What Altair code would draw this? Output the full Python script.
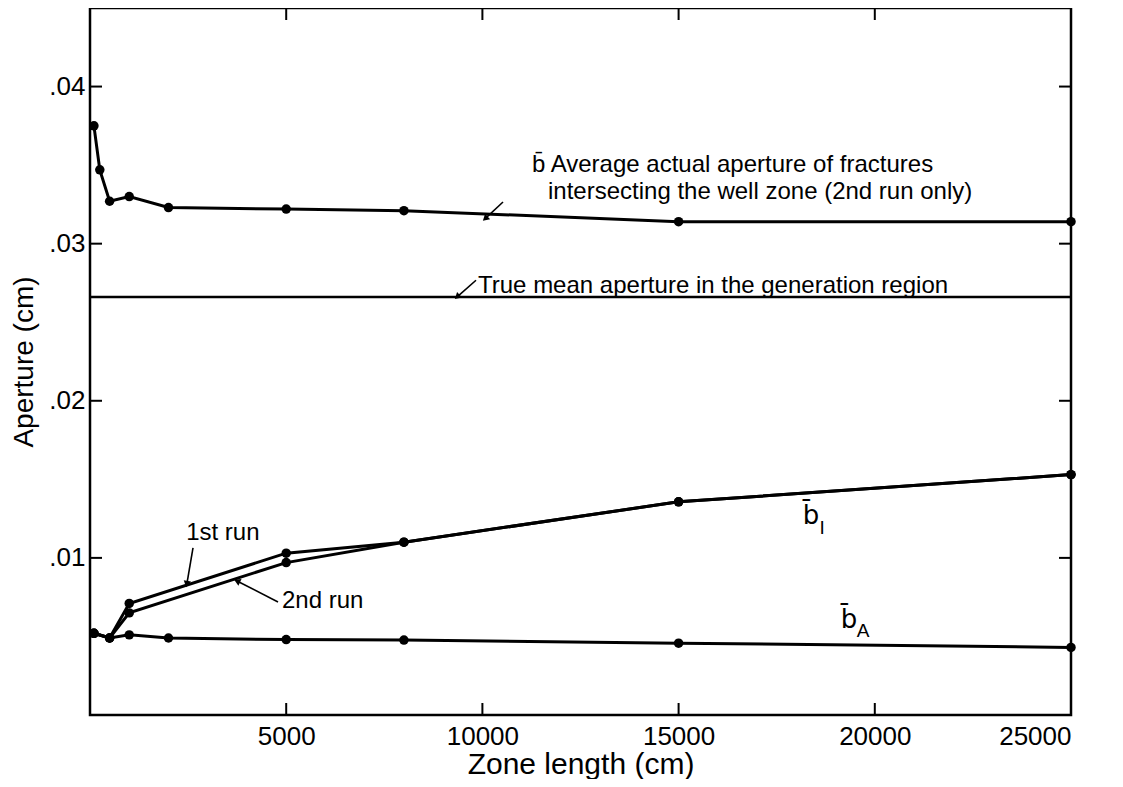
import altair as alt
import pandas as pd

# ---- data ----
x_bbar = [100, 250, 500, 1000, 2000, 5000, 8000, 15000, 25000]
b_bar = [0.0375, 0.0347, 0.0327, 0.0330, 0.0323, 0.0322, 0.0321, 0.0314, 0.0314]

x_bi = [100, 500, 1000, 5000, 8000, 15000, 25000]
bi_run1 = [0.0052, 0.0049, 0.0071, 0.0103, 0.0110, 0.01357, 0.0153]
bi_run2 = [0.0052, 0.0049, 0.0065, 0.0097, 0.0110, 0.01357, 0.0153]

x_ba = [100, 500, 1000, 2000, 5000, 8000, 15000, 25000]
b_a = [0.0052, 0.0049, 0.0051, 0.0049, 0.0048, 0.00477, 0.00457, 0.0043]

true_mean = 0.0266

x_ticks = [5000, 10000, 15000, 20000, 25000]
y_ticks = [0.01, 0.02, 0.03, 0.04]

# annotation texts (data coordinates)
ann_text = ["b\u0304 Average actual aperture of fractures",
            "intersecting the well zone (2nd run only)",
            "True mean aperture in the generation region",
            "1st run", "2nd run"]
ann_x = [11264, 11672, 9888, 2450, 4893]
ann_y = [0.03502, 0.03329, 0.02729, 0.01159, 0.00726]

# arrows: tail -> tip
arr_x1 = [10525, 9837, 2625, 4791]
arr_y1 = [0.03265, 0.02767, 0.01064, 0.00719]
arr_x2 = [10092, 9378, 2472, 3772]
arr_y2 = [0.03164, 0.02666, 0.00840, 0.00850]
arr_angle = [227, 228, 190, 295]

# curve labels
lab_main = ["b\u0304", "b\u0304"]
lab_main_x = [18374, 19343]
lab_main_y = [0.01267, 0.00604]
lab_sub = ["I", "A"]
lab_sub_x = [18660, 19700]
lab_sub_y = [0.01190, 0.00535]

W, H = 981, 707
FONT = "Liberation Sans"

xs = alt.Scale(domain=[0, 25000], nice=False, zero=False)
ys = alt.Scale(domain=[0, 0.045], nice=False, zero=False)

df_lines = pd.concat([
    pd.DataFrame({"x": x_bbar, "y": b_bar, "s": "bbar"}),
    pd.DataFrame({"x": x_bi, "y": bi_run1, "s": "bi1"}),
    pd.DataFrame({"x": x_bi, "y": bi_run2, "s": "bi2"}),
    pd.DataFrame({"x": x_ba, "y": b_a, "s": "ba"}),
], ignore_index=True)

X = alt.X("x:Q", scale=xs, axis=alt.Axis(
    values=x_ticks, format="d", ticks=False, domain=False, grid=False,
    title="Zone length (cm)", labelFontSize=26, titleFontSize=30,
    labelPadding=8, titlePadding=0, titleFontWeight="normal",
    labelFont=FONT, titleFont=FONT, labelColor="black", titleColor="black"))
Y = alt.Y("y:Q", scale=ys, axis=alt.Axis(
    values=y_ticks, labelExpr="substring(format(datum.value, '.2f'), 1)",
    ticks=False, domain=False, grid=False, title="Aperture (cm)",
    labelFontSize=26, titleFontSize=28, labelPadding=5, titlePadding=10,
    titleFontWeight="normal", labelFont=FONT, titleFont=FONT,
    labelColor="black", titleColor="black"))

base = alt.Chart(df_lines)
lines = base.mark_line(color="black", strokeWidth=3).encode(x=X, y=Y, detail="s:N")
pts = base.mark_circle(color="black", size=90, opacity=1).encode(x="x:Q", y="y:Q")

tm = alt.Chart(pd.DataFrame({"y": [true_mean]})).mark_rule(color="black", strokeWidth=2.5).encode(
    y="y:Q", x=alt.value(0), x2=alt.value(W))

yt = pd.DataFrame({"y": y_ticks})
xt = pd.DataFrame({"x": x_ticks})
ticks_l = alt.Chart(yt).mark_rule(color="black", strokeWidth=2).encode(y="y:Q", x=alt.value(0), x2=alt.value(12))
ticks_r = alt.Chart(yt).mark_rule(color="black", strokeWidth=2).encode(y="y:Q", x=alt.value(W - 12), x2=alt.value(W))
ticks_b = alt.Chart(xt).mark_rule(color="black", strokeWidth=2).encode(x="x:Q", y=alt.value(H - 12), y2=alt.value(H))
ticks_t = alt.Chart(xt).mark_rule(color="black", strokeWidth=2).encode(x="x:Q", y=alt.value(0), y2=alt.value(12))

ann = alt.Chart(pd.DataFrame({"t": ann_text, "x": ann_x, "y": ann_y})).mark_text(
    align="left", baseline="middle", font=FONT, fontSize=24, color="black").encode(
    x="x:Q", y="y:Q", text="t:N")

arr_df = pd.DataFrame({"x": arr_x1, "y": arr_y1, "x2": arr_x2, "y2": arr_y2, "a": arr_angle})
arr_line = alt.Chart(arr_df).mark_rule(color="black", strokeWidth=1.6).encode(
    x="x:Q", y="y:Q", x2="x2:Q", y2="y2:Q")
arr_head = alt.Chart(arr_df).mark_point(shape="triangle", filled=True, color="black", size=55, opacity=1).encode(
    x="x2:Q", y="y2:Q", angle=alt.Angle("a:Q", scale=None))

lab1 = alt.Chart(pd.DataFrame({"t": lab_main, "x": lab_main_x, "y": lab_main_y})).mark_text(
    align="center", baseline="middle", font="DejaVu Sans", fontSize=26, color="black").encode(
    x="x:Q", y="y:Q", text="t:N")
lab2 = alt.Chart(pd.DataFrame({"t": lab_sub, "x": lab_sub_x, "y": lab_sub_y})).mark_text(
    align="center", baseline="middle", font=FONT, fontSize=19, color="black").encode(
    x="x:Q", y="y:Q", text="t:N")

chart = alt.layer(lines, pts, tm, ticks_l, ticks_r, ticks_b, ticks_t, ann, arr_line, arr_head, lab1, lab2).properties(
    width=W, height=H,
    autosize=alt.AutoSizeParams(type="none"),
    padding={"left": 82, "top": 0, "right": 40, "bottom": 64},
    background="white",
).configure_view(stroke="black", strokeWidth=2.5)

chart.save("out.html", embed_options={"renderer": "svg", "actions": False})
